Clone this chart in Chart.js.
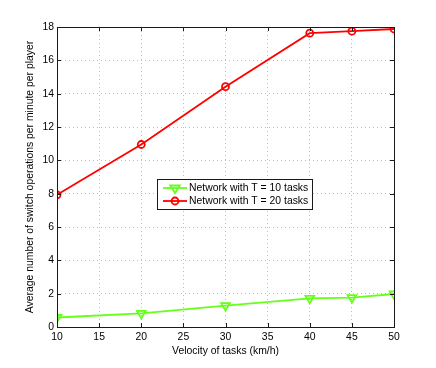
<!DOCTYPE html>
<html><head><meta charset="utf-8">
<script src="https://cdn.jsdelivr.net/npm/chart.js@4/dist/chart.umd.min.js"></script>
<style>html,body{margin:0;padding:0;background:#fff}canvas{display:block}</style>
</head><body>
<canvas id="c" width="436" height="368"></canvas>
<script>
const velocities = [10, 20, 30, 40, 45, 50];
const seriesT10 = [0.57, 0.82, 1.28, 1.72, 1.76, 1.98];
const seriesT20 = [7.93, 10.95, 14.42, 17.63, 17.75, 17.88];
const seriesLabels = ['Network with T = 10 tasks', 'Network with T = 20 tasks'];
const xTicks = [10, 15, 20, 25, 30, 35, 40, 45, 50];
const yTicks = [0, 2, 4, 6, 8, 10, 12, 14, 16, 18];
const xTitle = 'Velocity of tasks (km/h)';
const yTitle = 'Average number of switch operations per minute per player';

const FONT = 'Liberation Sans, Arial, Helvetica, sans-serif';
const GREEN = '#66ff1a';
const RED = '#ff0000';

function pts(xs, ys){ return xs.map((x,i)=>({x:x, y:ys[i]})); }

function drawMarker(ctx, style, x, y, r, color){
  ctx.save();
  ctx.strokeStyle = color; ctx.lineWidth = 1.8;
  ctx.beginPath();
  if (style === 'circle') {
    ctx.arc(x, y, r, 0, Math.PI*2);
  } else {
    const h = r;
    ctx.moveTo(x - r*0.95, y - h*0.5);
    ctx.lineTo(x + r*0.95, y - h*0.5);
    ctx.lineTo(x, y + h);
    ctx.closePath();
  }
  ctx.stroke();
  ctx.restore();
}

const framePlugin = {
  id: 'frame',
  afterDraw(chart){
    const ctx = chart.ctx, a = chart.chartArea;
    const xs = chart.scales.x, ys = chart.scales.y;
    ctx.save();
    ctx.strokeStyle = '#1a1a1a'; ctx.lineWidth = 1;
    ctx.strokeRect(Math.round(a.left)+0.5, Math.round(a.top)+0.5, Math.round(a.right-a.left), Math.round(a.bottom-a.top));
    ctx.beginPath();
    const tl = 4;
    xTicks.forEach(v=>{
      const px = Math.round(xs.getPixelForValue(v))+0.5;
      ctx.moveTo(px, a.bottom); ctx.lineTo(px, a.bottom - tl);
      ctx.moveTo(px, a.top); ctx.lineTo(px, a.top + tl);
    });
    yTicks.forEach(v=>{
      const py = Math.round(ys.getPixelForValue(v))+0.5;
      ctx.moveTo(a.left, py); ctx.lineTo(a.left + tl, py);
      ctx.moveTo(a.right, py); ctx.lineTo(a.right - tl, py);
    });
    ctx.stroke();

    const bx = 157.5, by = 179.5, bw = 155, bh = 30;
    ctx.fillStyle = '#fff';
    ctx.fillRect(bx, by, bw, bh);
    ctx.strokeStyle = '#1a1a1a';
    ctx.strokeRect(bx, by, bw, bh);
    const rows = [
      {label: chart.data.datasets[0].label, color: GREEN, style: 'triangle', r: 5},
      {label: chart.data.datasets[1].label, color: RED, style: 'circle', r: 3.5}
    ];
    ctx.font = '10.4px ' + FONT;
    ctx.textBaseline = 'middle';
    ctx.textAlign = 'left';
    rows.forEach((row, i)=>{
      const y = by + 8.5 + i*13;
      ctx.strokeStyle = row.color; ctx.lineWidth = 1.8;
      ctx.beginPath(); ctx.moveTo(163, y); ctx.lineTo(187, y); ctx.stroke();
      drawMarker(ctx, row.style, 175, y, row.r, row.color);
      ctx.fillStyle = '#000';
      ctx.fillText(row.label, 189, y + 0.5);
    });
    ctx.restore();
  }
};

new Chart(document.getElementById('c'), {
  type: 'scatter',
  data: {
    datasets: [
      {
        label: seriesLabels[0],
        data: pts(velocities, seriesT10),
        showLine: true,
        borderColor: GREEN,
        backgroundColor: 'transparent',
        borderWidth: 1.8,
        pointStyle: 'triangle',
        pointRotation: 180,
        pointRadius: 5,
        pointBorderWidth: 1.8,
        pointBorderColor: GREEN,
        pointBackgroundColor: 'transparent',
        tension: 0
      },
      {
        label: seriesLabels[1],
        data: pts(velocities, seriesT20),
        showLine: true,
        borderColor: RED,
        backgroundColor: 'transparent',
        borderWidth: 1.8,
        pointStyle: 'circle',
        pointRadius: 3.5,
        pointBorderWidth: 1.8,
        pointBorderColor: RED,
        pointBackgroundColor: 'transparent',
        tension: 0
      }
    ]
  },
  options: {
    responsive: false,
    animation: false,
    devicePixelRatio: 1,
    layout: { padding: { left: 0, right: 42, top: 27, bottom: 8 } },
    plugins: { legend: { display: false }, tooltip: { enabled: false } },
    scales: {
      x: {
        type: 'linear', min: 10, max: 50,
        afterBuildTicks(s){ s.ticks = xTicks.map(v=>({value:v})); },
        afterFit(s){ s.height = 33; },
        grid: { color: '#bdbdbd', lineWidth: 1, drawTicks: false },
        border: { display: false, dash: [1, 3] },
        ticks: { color: '#000', font: { family: FONT, size: 10.4 }, padding: 4, maxRotation: 0, autoSkip: false },
        title: { display: true, text: xTitle, color: '#000', font: { family: FONT, size: 10.4 }, padding: { top: 0, bottom: 3 } }
      },
      y: {
        type: 'linear', min: 0, max: 18,
        afterBuildTicks(s){ s.ticks = yTicks.map(v=>({value:v})); },
        afterFit(s){ s.width = 57; },
        grid: { color: '#bdbdbd', lineWidth: 1, drawTicks: false },
        border: { display: false, dash: [1, 3] },
        ticks: { color: '#000', font: { family: FONT, size: 10.4 }, padding: 3, autoSkip: false },
        title: { display: true, text: yTitle, color: '#000', font: { family: FONT, size: 10.4 }, padding: { top: 24, bottom: 0 } }
      }
    }
  },
  plugins: [framePlugin]
});
</script>
</body></html>
